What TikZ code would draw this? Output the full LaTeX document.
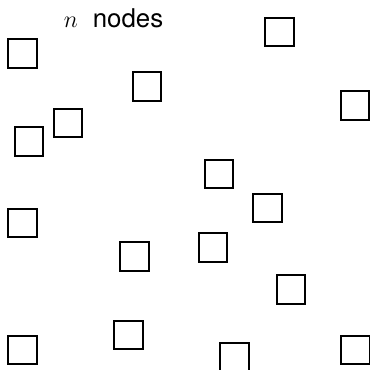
\documentclass[tikz,border=0pt]{standalone}
\usepackage{fontspec}
\setsansfont{TeX Gyre Heros}
\usepackage{tikz}

\begin{document}
\begin{tikzpicture}[
  x=0.6pt, y=-0.6pt,
  cell/.style={draw=black, fill=white, line width=0.95pt, rectangle,
               minimum size=17.1pt, inner sep=0pt},
  titulo/.style={font=\sffamily\fontsize{15.5}{18}\selectfont, anchor=base,
                 inner sep=0pt}
]
\useasboundingbox (0,0) rectangle (370,370);
\node[titulo] (rot) at (113.5,27.7) {$n$\hspace{0.3em} nodes};
\node[cell] (c1)  at (22.5,53.5)  {};
\node[cell] (c2)  at (279.5,32)   {};
\node[cell] (c3)  at (147,86.5)   {};
\node[cell] (c4)  at (355,105.5)  {};
\node[cell] (c5)  at (68,123)     {};
\node[cell] (c6)  at (29,141.5)   {};
\node[cell] (c7)  at (219,174)    {};
\node[cell] (c8)  at (267.5,208)  {};
\node[cell] (c9)  at (22.5,223)   {};
\node[cell] (c10) at (213,247.5)  {};
\node[cell] (c11) at (134.5,256.5){};
\node[cell] (c12) at (291,289.5)  {};
\node[cell] (c13) at (128.5,335)  {};
\node[cell] (c14) at (22.5,350)   {};
\node[cell] (c15) at (234.5,357.5){};
\node[cell] (c16) at (355.5,350)  {};
\end{tikzpicture}
\end{document}
